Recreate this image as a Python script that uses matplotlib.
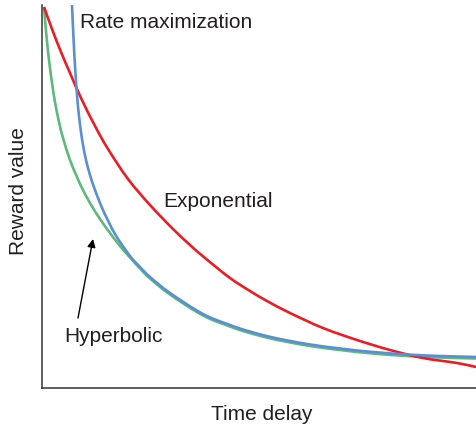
import numpy as np
import matplotlib.pyplot as plt
from matplotlib.path import Path
from matplotlib.patches import PathPatch

# values (arbitrary units: time 0..434, reward 0..383)
red_x = [2, 10, 19, 28, 39, 53, 66, 86, 108, 131, 148, 163, 188, 208, 225,
         248, 281, 315, 348, 381, 415, 434]
red_y = [381, 359, 336, 315, 290, 262, 239, 209, 183, 159, 143, 130, 110, 97,
         87, 75, 60, 48, 38, 30, 25, 21]

green_x = [2, 4, 6, 8, 10, 13, 17, 21, 28, 35, 40, 48, 58, 68, 78, 88, 98,
           108, 128, 161, 188, 206, 231, 265, 298, 331, 365, 398, 434]
green_y = [381, 357, 337, 320, 305, 286, 266, 250, 228, 211, 200, 185, 169,
           155, 142, 130.5, 119.5, 109.5, 93.5, 72.5, 61.5, 55.5, 49, 42.5,
           38, 34.5, 32, 30.5, 29.5]

blue_x = [30, 31.5, 33, 35, 37, 39, 41, 44, 48, 53, 61, 73, 88, 98, 108, 128,
          161, 188, 206, 231, 265, 298, 331, 365, 398, 434]
blue_y = [383, 350, 322, 293, 272, 256, 243, 228, 213, 198, 178, 154, 132,
          121, 111, 95, 74, 63, 57, 50.5, 44, 39.5, 36, 33.5, 32, 31]


def smooth_path(xs, ys):
    # catmull-rom through the read points, drawn as bezier segments
    p = np.column_stack([xs, ys]).astype(float)
    verts = [p[0]]
    codes = [Path.MOVETO]
    n = len(p)
    for i in range(n - 1):
        p0 = p[max(i - 1, 0)]
        p1, p2 = p[i], p[i + 1]
        p3 = p[min(i + 2, n - 1)]
        verts += [p1 + (p2 - p0) / 6, p2 - (p3 - p1) / 6, p2]
        codes += [Path.CURVE4] * 3
    return Path(verts, codes)


plt.rcParams['font.family'] = ['Liberation Sans', 'DejaVu Sans']
txt = '#231f20'

fig = plt.figure(figsize=(4.76, 4.29), dpi=100)
ax = fig.add_axes([42/476, 1 - 388/429, 434/476, 383/429])

lw = 1.9
for xs, ys, c in [(green_x, green_y, '#5db97c'),
                  (red_x, red_y, '#ec1c24'),
                  (blue_x, blue_y, '#5b8fd3')]:
    ax.add_patch(PathPatch(smooth_path(xs, ys), fill=False, edgecolor=c,
                           lw=lw, capstyle='butt'))

ax.set_xlim(0, 434)
ax.set_ylim(0, 383)
ax.set_xticks([])
ax.set_yticks([])
for s in ['top', 'right']:
    ax.spines[s].set_visible(False)
for s in ['left', 'bottom']:
    ax.spines[s].set_color('#333333')
    ax.spines[s].set_linewidth(1.1)

fs = 15
ax.text(38, 360, 'Rate maximization', fontsize=fs, color=txt, va='baseline')
ax.text(121, 181, 'Exponential', fontsize=fs, color=txt, va='baseline')
ax.text(22, 46, 'Hyperbolic', fontsize=fs, color=txt, va='baseline')
ax.annotate('', xy=(51, 149), xytext=(36, 70),
            arrowprops=dict(arrowstyle='-|>', color='black', lw=1.0,
                            mutation_scale=12, shrinkA=0, shrinkB=0))

fig.text(262/476, 1 - 414/429, 'Time delay', fontsize=fs, color=txt,
         ha='center', va='center')
fig.text(19/476, 1 - 191/429, 'Reward value', fontsize=fs, color=txt,
         ha='center', va='center', rotation=90)

fig.savefig('out.png', dpi=100)
